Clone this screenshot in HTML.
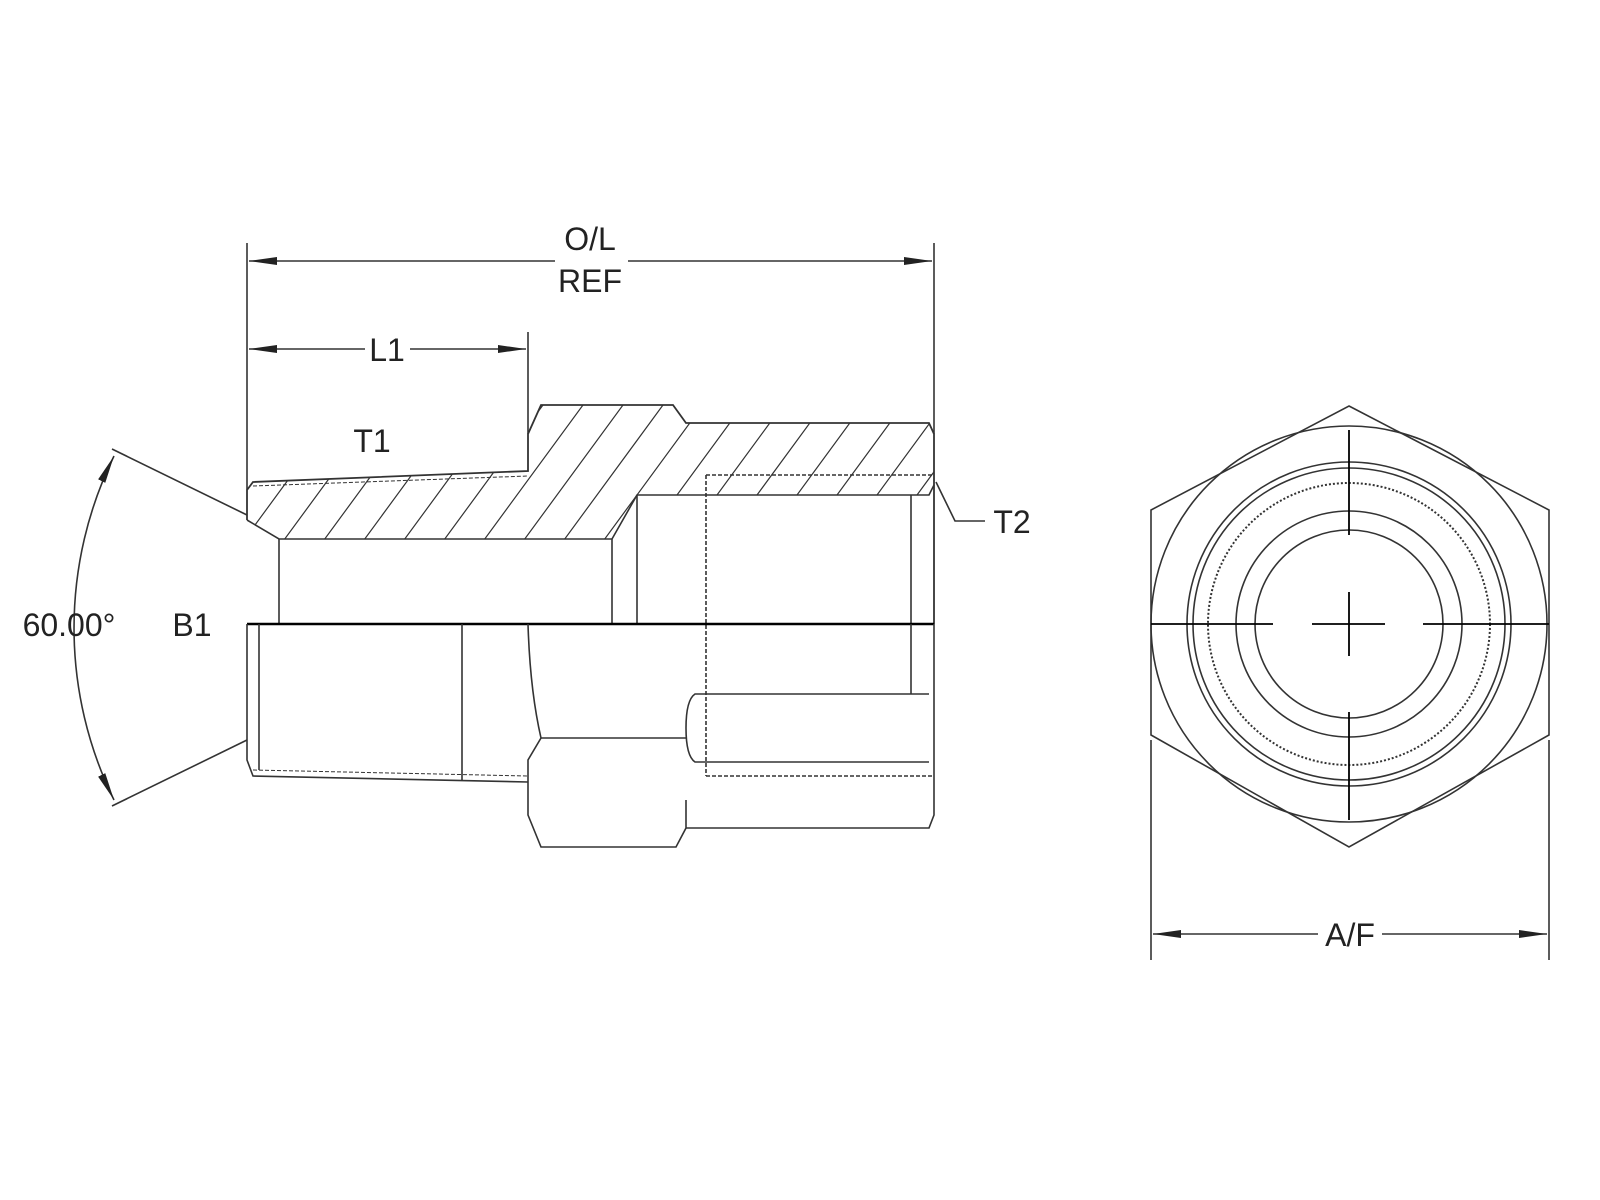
<!DOCTYPE html>
<html><head><style>
html,body{margin:0;padding:0;background:#fff;}
svg{display:block;}
text{font-family:"Liberation Sans",sans-serif;fill:#222;}
</style></head><body>
<svg width="1600" height="1200" viewBox="0 0 1600 1200" xmlns="http://www.w3.org/2000/svg">
<defs>
<clipPath id="sec"><polygon points="253,482 528,471 528,434 541,405 673,405 686,423 929,423 934,434 934,485 929,495 637,495 612,539 279,539 247,520 247,490"/></clipPath>
<marker id="ar" viewBox="0 0 10 10" refX="10" refY="5" markerWidth="28" markerHeight="10" markerUnits="userSpaceOnUse" orient="auto-start-reverse" preserveAspectRatio="none"><path d="M0,1 L10,5 L0,9 Z" fill="#222"/></marker>
</defs>
<g stroke="#333" stroke-width="1.6" fill="none">
<line x1="247" y1="243" x2="247" y2="490"/>
<line x1="934" y1="243" x2="934" y2="434"/>
<line x1="528" y1="332" x2="528" y2="434"/>
<line x1="249" y1="261" x2="555" y2="261" marker-start="url(#ar)"/>
<line x1="628" y1="261" x2="932" y2="261" marker-end="url(#ar)"/>
<line x1="249" y1="349" x2="365" y2="349" marker-start="url(#ar)"/>
<line x1="410" y1="349" x2="526" y2="349" marker-end="url(#ar)"/>
<g clip-path="url(#sec)" stroke-width="1.2">
<path d="M200,600 L420,300 M240,600 L460,300 M280,600 L500,300 M320,600 L540,300 M360,600 L580,300 M400,600 L620,300 M440,600 L660,300 M480,600 L700,300 M520,600 L740,300 M560,600 L780,300 M600,600 L820,300 M640,600 L860,300 M680,600 L900,300 M720,600 L940,300 M760,600 L980,300 M800,600 L1020,300 M840,600 L1060,300"/>
</g>
<path d="M247,520 L247,490 L253,482 L528,471 L528,434 L541,405 L673,405 L686,423 L929,423 L934,434 L934,624" stroke-width="1.8"/>
<path d="M247,520 L279,539 L612,539 L637,495 L929,495 L934,485"/>
<line x1="279" y1="539" x2="279" y2="624"/>
<line x1="612" y1="539" x2="612" y2="624"/>
<line x1="637" y1="495" x2="637" y2="624"/>
<line x1="911" y1="495" x2="911" y2="624"/>
<line x1="706" y1="475" x2="934" y2="475" stroke-dasharray="4,2"/>
<line x1="706" y1="475" x2="706" y2="776" stroke-dasharray="4,2"/>
<line x1="253" y1="486" x2="528" y2="476" stroke-dasharray="4,2" stroke-width="1"/>
<line x1="247" y1="624" x2="934" y2="624" stroke="#000" stroke-width="2.5"/>
<path d="M247,624 L247,760 L253,776 L528,782"/>
<path d="M253,770 L528,776" stroke-dasharray="4,2" stroke-width="1"/>
<line x1="259" y1="624" x2="259" y2="770"/>
<line x1="462" y1="624" x2="462" y2="780"/>
<path d="M528,624 Q530,690 541,738 L528,760 L528,815 L541,847 L676,847 L686,828 L686,800"/>
<path d="M541,738 L686,738"/>
<path d="M686,828 L929,828 L934,815 L934,624"/>
<path d="M929,694 L695,694 Q686,700 686,728 Q686,756 695,762 L929,762"/>
<line x1="706" y1="776" x2="934" y2="776" stroke-dasharray="4,2"/>
<line x1="911" y1="624" x2="911" y2="694"/>
<line x1="247" y1="515" x2="112" y2="449"/>
<line x1="247" y1="740" x2="112" y2="806"/>
<path d="M114,456 A390,390 0 0 0 114,800" marker-start="url(#ar)" marker-end="url(#ar)"/>
<polyline points="936,482 955,521 985,521"/>
<polygon points="1349,406 1549,510 1549,735 1349,847 1151,735 1151,510" stroke-width="1.6"/>
<circle cx="1349" cy="624" r="198"/>
<circle cx="1349" cy="624" r="162"/>
<circle cx="1349" cy="624" r="156"/>
<circle cx="1349" cy="624" r="141" stroke-dasharray="2,2" stroke-width="2"/>
<circle cx="1349" cy="624" r="113"/>
<circle cx="1349" cy="624" r="94"/>
<g stroke="#000" stroke-width="1.8">
<line x1="1151" y1="624" x2="1273" y2="624"/>
<line x1="1312" y1="624" x2="1385" y2="624"/>
<line x1="1423" y1="624" x2="1549" y2="624"/>
<line x1="1349" y1="430" x2="1349" y2="535"/>
<line x1="1349" y1="592" x2="1349" y2="656"/>
<line x1="1349" y1="712" x2="1349" y2="820"/>
</g>
<line x1="1151" y1="740" x2="1151" y2="960"/>
<line x1="1549" y1="740" x2="1549" y2="960"/>
<line x1="1153" y1="934" x2="1318" y2="934" marker-start="url(#ar)"/>
<line x1="1382" y1="934" x2="1547" y2="934" marker-end="url(#ar)"/>
</g>
<g font-size="32" text-anchor="middle">
<text x="590" y="250">O/L</text>
<text x="590" y="292">REF</text>
<text x="387" y="361">L1</text>
<text x="372" y="452">T1</text>
<text x="1012" y="533">T2</text>
<text x="69" y="636">60.00°</text>
<text x="192" y="636">B1</text>
<text x="1350" y="946">A/F</text>
</g>
</svg>
</body></html>
